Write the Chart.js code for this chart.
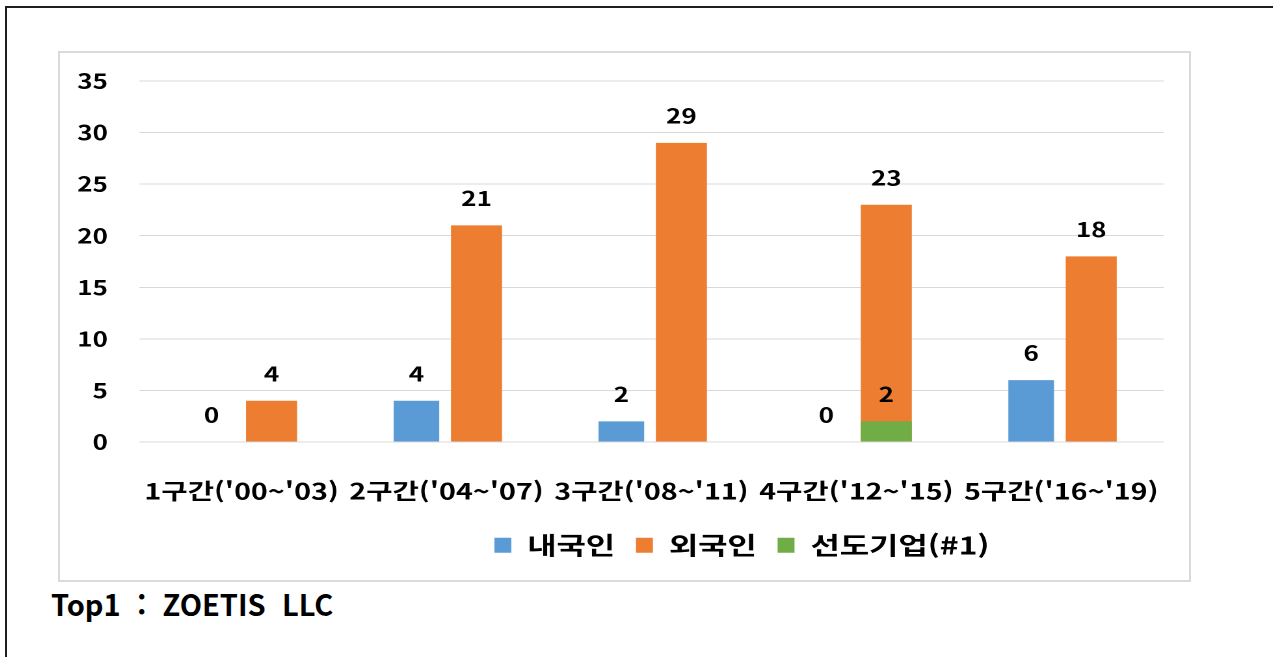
<!DOCTYPE html>
<html lang="ko">
<head>
<meta charset="utf-8">
<title>구간별 출원 동향</title>
<script src="https://cdn.jsdelivr.net/npm/chart.js@4.4.0/dist/chart.umd.min.js"></script>
<style>
  html, body { margin: 0; padding: 0; background: #fff; overflow: hidden; }
  body { width: 1273px; height: 657px; position: relative; font-family: "Noto Sans CJK KR", "Noto Sans", sans-serif; }
  /* 바깥 테두리 (위/왼쪽만 보임) */
  #frame { position: absolute; left: 5px; top: 6px; width: 1300px; height: 700px;
           border-top: 2px solid #1e1e1e; border-left: 2px solid #1e1e1e; }
  /* 차트 상자 */
  #box { position: absolute; left: 58px; top: 51px; width: 1133px; height: 531px;
         box-sizing: border-box; border: 2px solid #dadada; overflow: hidden; }
  /* 가로로 늘린 차트 */
  #stretch { width: 868px; height: 527px; transform: scaleX(1.3007); transform-origin: 0 0; }
  #caption { position: absolute; left: 51px; top: 588px; font-size: 29px; line-height: 30px;
             font-weight: bold; color: #000; white-space: pre; }
</style>
</head>
<body>
<div id="frame"></div>
<div id="box">
  <div id="stretch"><canvas id="barChart"></canvas></div>
</div>
<div id="caption">Top1  :  ZOETIS  LLC</div>

<script>
"use strict";

// 데이터
const categories = ["1구간('00~'03)", "2구간('04~'07)", "3구간('08~'11)", "4구간('12~'15)", "5구간('16~'19)"];
const domestic = [0, 4, 2, 0, 6];
const foreign = [4, 21, 29, 23, 18];
const leader = [null, null, null, 2, null];
const seriesNames = ["내국인", "외국인", "선도기업(#1)"];
const yMax = 35;
const yStep = 5;

const fontFamily = '"Noto Sans CJK KR", "Noto Sans", sans-serif';
Chart.defaults.font.family = fontFamily;
Chart.defaults.color = "#000";

// 막대 위 값 표시
const barValueLabels = {
    id: "barValueLabels",
    afterDatasetsDraw(chart) {
        const ctx = chart.ctx;
        ctx.save();
        ctx.font = "bold 20px " + fontFamily;
        ctx.fillStyle = "#000";
        ctx.textAlign = "center";
        ctx.textBaseline = "middle";
        chart.data.datasets.forEach((ds, i) => {
            const meta = chart.getDatasetMeta(i);
            meta.data.forEach((bar, j) => {
                const v = ds.data[j];
                if (v === null || v === undefined) return;
                ctx.fillText(String(v), bar.x, bar.y - 27);
            });
        });
        ctx.restore();
    }
};

// 범례를 오른쪽으로 옮김
const legendShift = {
    id: "legendShift",
    afterLayout(chart) {
        chart.legend.left += 100;
        chart.legend.right += 100;
    }
};

const barChartEl = document.getElementById("barChart");
new Chart(barChartEl, {
    type: "bar",
    data: {
        labels: categories,
        datasets: [{
            label: seriesNames[0],
            data: domestic,
            backgroundColor: "#5B9BD5",
            stack: "a",
            order: 0,
            barPercentage: 0.76
        }, {
            label: seriesNames[1],
            data: foreign,
            backgroundColor: "#ED7D31",
            stack: "b",
            order: 2,
            barPercentage: 0.85
        }, {
            label: seriesNames[2],
            data: leader,
            backgroundColor: "#70AD47",
            stack: "b",
            order: 1,
            barPercentage: 0.85
        }]
    },
    options: {
        responsive: true,
        maintainAspectRatio: false,
        animation: false,
        devicePixelRatio: 2,
        categoryPercentage: 0.586,
        layout: { padding: { top: 28, right: 19.5, bottom: 12.5, left: 0 } },
        scales: {
            x: {
                grid: { display: false, drawTicks: false },
                border: { display: false },
                ticks: {
                    font: { size: 22, weight: "bold" },
                    color: "#000",
                    padding: 36,
                    maxRotation: 0,
                    autoSkip: false
                },
                afterFit(axis) {
                    axis.height = 75;
                    axis.paddingLeft = 0;
                    axis.paddingRight = 0;
                }
            },
            y: {
                stacked: false,
                min: 0,
                max: yMax,
                grid: { color: "#d9d9d9", lineWidth: 1, drawTicks: false },
                border: { display: false },
                ticks: {
                    stepSize: yStep,
                    font: { size: 20, weight: "bold" },
                    color: "#000",
                    padding: 24
                },
                afterFit(axis) {
                    axis.width = 60.8;
                    axis.paddingTop = 0;
                    axis.paddingBottom = 0;
                }
            }
        },
        plugins: {
            tooltip: { enabled: false },
            legend: {
                position: "bottom",
                labels: {
                    boxWidth: 13,
                    boxHeight: 15,
                    padding: 16,
                    color: "#000",
                    font: { size: 24.5, weight: "bold" },
                    sort: (a, b) => a.datasetIndex - b.datasetIndex
                }
            }
        }
    },
    plugins: [barValueLabels, legendShift]
});
</script>
</body>
</html>
